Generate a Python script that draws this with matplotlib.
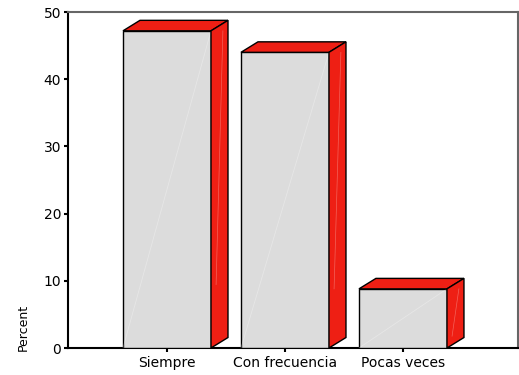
import matplotlib.pyplot as plt
from matplotlib.patches import Polygon

categories = ["Siempre", "Con frecuencia", "Pocas veces"]
percent = [47.2, 44.0, 8.8]
yticks = [0, 10, 20, 30, 40, 50]

front_color = "#dcdcdc"
red = "#ee1f14"
width = 0.746
dx, dy = 0.144, 1.56

fig = plt.figure(figsize=(5.19, 3.75), dpi=100)
ax = fig.add_axes([68 / 519, 27 / 375, 450 / 519, 336 / 375])

x = list(range(len(categories)))
bars = ax.bar(x, percent, width=width, color=front_color,
              edgecolor="black", linewidth=1.0, zorder=3)

for b in bars:
    x0 = b.get_x()
    x1 = x0 + b.get_width()
    h = b.get_height()
    # top face
    ax.add_patch(Polygon([(x0, h), (x1, h), (x1 + dx, h + dy), (x0 + dx, h + dy)],
                         closed=True, facecolor=red, edgecolor="black",
                         linewidth=1.0, zorder=4))
    # side face
    ax.add_patch(Polygon([(x1, 0), (x1 + dx, dy), (x1 + dx, h + dy), (x1, h)],
                         closed=True, facecolor=red, edgecolor="black",
                         linewidth=1.0, zorder=4))
    # faint highlights
    ax.plot([x0, x1], [0, h], color="white", lw=0.6, alpha=0.3, zorder=3.5)
    ax.plot([x1 + 0.3 * dx, x1 + 0.7 * dx], [0.2 * h, h], color="white",
            lw=0.5, alpha=0.3, zorder=4.5)

ax.set_xlim(-0.839, 2.975)
ax.set_ylim(0, 50)
ax.set_xticks(x)
ax.set_xticklabels(categories, fontsize=10)
ax.set_yticks(yticks)
ax.tick_params(axis="both", direction="out", length=3, width=1.5,
               labelsize=10, pad=2)
ax.tick_params(axis="x", pad=3)
ax.set_ylabel("Percent", fontsize=9)
ax.yaxis.set_label_coords(-0.085, 0.06)

ax.spines["left"].set_color("black")
ax.spines["bottom"].set_color("black")
ax.spines["top"].set_color("#666666")
ax.spines["right"].set_color("#666666")
for s in ax.spines.values():
    s.set_linewidth(1.5)

fig.savefig("out.png", dpi=100)
